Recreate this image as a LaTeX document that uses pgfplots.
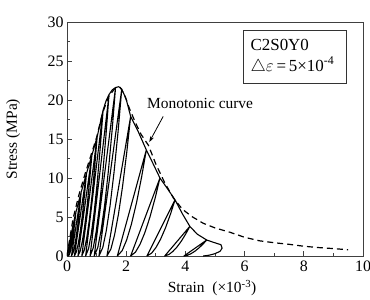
\documentclass[border=0pt]{standalone}
\usepackage{pgfplots}
\pgfplotsset{compat=1.18}
\usepackage{fontspec}
\setmainfont{Liberation Serif}
\usetikzlibrary{arrows.meta}
\begin{document}
\begin{tikzpicture}
\begin{axis}[
 name=ax, scale only axis, width=296bp, height=234bp,
 xmin=0,xmax=10,ymin=0,ymax=30,
 xtick={0,2,...,10}, minor xtick={1,3,...,9},
 ytick={0,5,...,30}, minor ytick={2.5,7.5,...,27.5},
 tick align=inside, xtick pos=bottom, ytick pos=left,
 major tick length=5bp, minor tick length=3bp,
 axis line style={line width=0.9pt, black!75},
 every tick/.style={black!75, line width=0.8pt},
 /pgf/number format/assume math mode=true,
 ticklabel style={font=\fontsize{16}{18}\selectfont},
 xticklabel style={yshift=-1bp},
 label style={font=\fontsize{15.5}{17}\selectfont},
 xlabel={Strain\ \ (×10\textsuperscript{-3})},
 ylabel={Stress (MPa)},
 xlabel style={at={(axis description cs:0.49,-0.137)},anchor=center},
 ylabel style={at={(axis description cs:-0.182,0.5)},anchor=center},
]
\addplot[black, line width=1.2pt, dash pattern=on 6bp off 4bp] coordinates {
(0,0) (0.05,1.2) (0.1,2.4) (0.2,4.7) (0.4,7.8) (0.6,10.4) (0.8,12.8) (1.0,15.2) (1.2,18.3) (1.4,20.4) (1.6,21.4) (1.8,21.6) (1.95,20.6) (2.1,19.0) (2.3,17.2) (2.5,15.6) (2.75,14.2) (3.0,11.8) (3.3,9.4) (3.6,7.4) (3.9,6.0) (4.2,5.1) (4.6,4.2) (5.0,3.6) (5.5,3.05) (6.0,2.4) (6.5,1.95) (7.0,1.7) (7.5,1.5) (8.0,1.25) (8.5,1.08) (9.0,0.95) (9.5,0.8)
};
\addplot[black, line width=1.1pt, line join=round] coordinates {
(0,0) (0.1,2.0) (0.2,3.9) (0.30,5.6)
(0.260,4.2) (0.215,2.8) (0.172,1.68) (0.130,0.84) (0.092,0.28) (0.05,0)
(0.30,5.6) (0.48,8.2)
(0.428,6.15) (0.368,4.1) (0.310,2.46) (0.256,1.23) (0.205,0.41) (0.15,0)
(0.48,8.2) (0.66,10.6)
(0.595,7.95) (0.521,5.3) (0.449,3.18) (0.381,1.59) (0.318,0.53) (0.25,0)
(0.66,10.6) (0.84,12.9)
(0.765,9.675) (0.680,6.45) (0.598,3.87) (0.520,1.935) (0.448,0.645) (0.37,0)
(0.84,12.9) (1.02,15.3)
(0.937,11.475) (0.843,7.65) (0.753,4.59) (0.666,2.295) (0.586,0.765) (0.50,0)
(1.02,15.3) (1.22,18.7)
(1.126,14.025) (1.019,9.35) (0.917,5.61) (0.819,2.805) (0.728,0.935) (0.63,0)
(1.22,18.7) (1.32,19.9) (1.42,20.7)
(1.318,15.525) (1.202,10.35) (1.091,6.21) (0.985,3.105) (0.886,1.035) (0.78,0)
(1.42,20.7) (1.53,21.3) (1.64,21.6)
(1.526,16.2) (1.395,10.8) (1.270,6.48) (1.150,3.24) (1.040,1.08) (0.92,0)
(1.64,21.6) (1.75,21.7) (1.85,21.4)
(1.728,16.05) (1.588,10.7) (1.454,6.42) (1.326,3.21) (1.208,1.07) (1.08,0)
(1.85,21.4) (2.0,20.1) (2.15,17.9)
(2.023,13.425) (1.878,8.95) (1.739,5.37) (1.606,2.685) (1.483,0.895) (1.35,0)
(2.15,17.9) (2.4,16.0) (2.68,13.6)
(2.524,10.2) (2.347,6.8) (2.176,4.08) (2.014,2.04) (1.863,0.68) (1.70,0)
(2.68,13.6) (2.9,11.9) (3.14,10.0)
(2.983,7.5) (2.803,5.0) (2.631,3.0) (2.467,1.5) (2.314,0.5) (2.15,0)
(3.14,10.0) (3.4,8.6) (3.65,7.2)
(3.499,5.4) (3.327,3.6) (3.162,2.16) (3.004,1.08) (2.858,0.36) (2.70,0)
(3.65,7.2) (3.9,5.4) (4.15,3.8)
(4.015,2.85) (3.861,1.9) (3.713,1.14) (3.572,0.57) (3.441,0.19) (3.30,0)
(4.15,3.8) (4.4,2.8) (4.72,2.05)
(4.598,1.54) (4.458,1.03) (4.324,0.62) (4.196,0.31) (4.078,0.10) (3.95,0)
(4.72,2.05) (4.95,1.75) (5.2,1.45)
(5.24,1.0) (5.17,0.6) (5.0,0.3) (4.8,0.1) (4.6,0)
};
\node[font=\fontsize{15.5}{17}\selectfont, anchor=west, inner sep=0pt] at (axis cs:2.70,19.5) {Monotonic curve};
\draw[black, line width=0.8pt, -{Stealth[length=6bp,width=4bp]}] (axis cs:3.25,17.9) -- (axis cs:2.78,14.6);
\node[draw=black!80, line width=0.9pt, align=left, anchor=north west, inner xsep=7bp, inner ysep=5bp, minimum height=53bp, text width=89bp, font=\fontsize{17}{21}\selectfont] at (axis cs:5.95,29.0) {C2S0Y0\\$\triangle\varepsilon$\,=\,5×10\textsuperscript{-4}};
\end{axis}
\pgfresetboundingbox
\path ([xshift=-67bp,yshift=-44bp]ax.south west) rectangle ([xshift=7bp,yshift=22bp]ax.north east);
\end{tikzpicture}
\end{document}
